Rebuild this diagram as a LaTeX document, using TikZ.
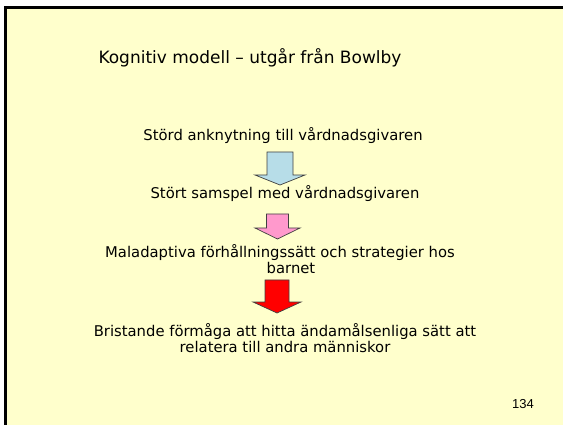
\documentclass[tikz,border=0pt]{standalone}
\usepackage{fontspec}
\setmainfont{DejaVu Sans}
\newfontfamily\numfont{Liberation Sans}
\definecolor{slidebg}{HTML}{FFFFCC}
\definecolor{arrowblue}{HTML}{B7DDE8}
\definecolor{arrowpink}{HTML}{FF99CC}
\definecolor{arrowred}{HTML}{FF0000}
\tikzset{
  titletext/.style={font=\fontsize{17}{20}\selectfont, inner sep=0pt},
  bodytext/.style={font=\fontsize{14.8}{13.5}\selectfont, inner sep=0pt, align=center},
  blockarrow/.style={draw=black!75, line width=0.7pt, line join=miter},
}
% downward block arrow: centre x, top y, shaft half-width, head half-width, head base y, tip y, fill
\newcommand{\downblock}[7]{%
  \path[blockarrow, fill=#7]
    (#1-#3,#2) -- (#1+#3,#2) -- (#1+#3,#5) -- (#1+#4,#5) -- (#1,#6)
    -- (#1-#4,#5) -- (#1-#3,#5) -- cycle;}
\begin{document}
\begin{tikzpicture}[x=1pt,y=-1pt]
  \useasboundingbox (0,0) rectangle (563,425);
  \fill[white] (0,0) rectangle (563,425);
  \begin{scope}
    \clip (0,0) rectangle (563,425);
    \draw[fill=slidebg, line width=3pt] (5.5,7.5) rectangle (575,440);
  \end{scope}

  \node[titletext] (title) at (250,58) {Kognitiv modell – utgår från Bowlby};

  \node[bodytext] (s1) at (283,136) {Störd anknytning till vårdnadsgivaren};
  \downblock{280}{152}{13}{25}{175}{185}{arrowblue}
  \node[bodytext] (s2) at (285,194) {Stört samspel med vårdnadsgivaren};
  \downblock{277.5}{214}{11}{22.5}{228}{239}{arrowpink}
  \node[bodytext] (s3) at (280,259) {Maladaptiva förhållningssätt och strategier hos\\\hspace*{22pt}barnet};
  \downblock{277}{280}{12}{24}{302}{313}{arrowred}
  \node[bodytext] (s4) at (285,338) {Bristande förmåga att hitta ändamålsenliga sätt att\\relatera till andra människor};

  \node[font=\numfont\fontsize{13}{15}\selectfont, inner sep=0pt] (pageno) at (523,404) {134};
\end{tikzpicture}
\end{document}
